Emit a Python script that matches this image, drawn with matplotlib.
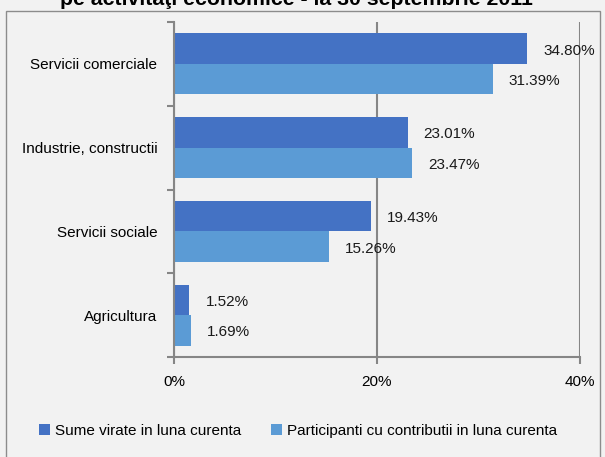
import matplotlib
matplotlib.use("Agg")
import matplotlib.pyplot as plt
from matplotlib.patches import Rectangle
import numpy as np

categorii = ["Servicii comerciale", "Industrie, constructii", "Servicii sociale", "Agricultura"]
sume_virate = [34.80, 23.01, 19.43, 1.52]
participanti = [31.39, 23.47, 15.26, 1.69]
serii = ["Sume virate in luna curenta", "Participanti cu contributii in luna curenta"]
x_ticks = [0, 20, 40]
titlu = "pe activităţi economice - la 30 septembrie 2011"

plt.rcParams['font.family'] = ['Liberation Sans', 'DejaVu Sans']

bg = "#f2f2f2"
c1 = "#4472c4"
c2 = "#5b9bd5"
gri = "#868686"
fs = 11

fig = plt.figure(figsize=(6.05, 4.57), dpi=100, facecolor=bg)
W, H = 605, 457

# chenarul graficului
fig.add_artist(Rectangle((5.5 / W, -0.01), 594 / W, 1 - 11 / H + 0.01, transform=fig.transFigure,
                         facecolor="none", edgecolor="#8c8c8c", linewidth=1.0, zorder=0))

fig.text(296 / W, 1 - 5 / H, titlu, ha="center", va="baseline", fontsize=15.3, fontweight="bold")

ax = fig.add_axes([174 / W, 1 - 357 / H, 406 / W, 335 / H])
ax.set_facecolor(bg)

y = np.arange(len(categorii))
h = 0.365
b1 = ax.barh(y - h / 2, sume_virate, height=h, color=c1, label=serii[0])
b2 = ax.barh(y + h / 2, participanti, height=h, color=c2, label=serii[1])

for bars, vals in [(b1, sume_virate), (b2, participanti)]:
    for bar, v in zip(bars, vals):
        ax.annotate(f"{v:.2f}%", (bar.get_width(), bar.get_y() + bar.get_height() / 2),
                    xytext=(16, -2), textcoords="offset pixels", ha="left", va="center",
                    fontsize=fs, color="#1a1a1a")

ax.set_xlim(0, 40)
ax.set_ylim(len(categorii) - 0.5, -0.5)
ax.set_xticks(x_ticks)
ax.set_xticklabels([f"{t}%" for t in x_ticks], fontsize=fs)
ax.set_yticks(y)
ax.set_yticklabels(categorii, fontsize=fs)
ax.set_yticks(np.arange(len(categorii) + 1) - 0.5, minor=True)
ax.tick_params(axis="y", which="major", length=0, pad=12)
ax.tick_params(axis="y", which="minor", length=5, color=gri, width=1.5)
ax.tick_params(axis="x", length=5, color=gri, width=1.5, pad=8)

ax.grid(axis="x", color=gri, linewidth=1.5)
ax.set_axisbelow(True)
for s in ["top", "right"]:
    ax.spines[s].set_visible(False)
for s in ["left", "bottom"]:
    ax.spines[s].set_color(gri)
    ax.spines[s].set_linewidth(1.5)

fig.legend(handles=[b1, b2], loc="center", bbox_to_anchor=(298 / W, 1 - 431 / H), ncol=2,
           frameon=False, fontsize=fs, handlelength=0.7, handleheight=0.7, handletextpad=0.3,
           columnspacing=2.0)

fig.savefig("out.png", dpi=100, facecolor=bg)
